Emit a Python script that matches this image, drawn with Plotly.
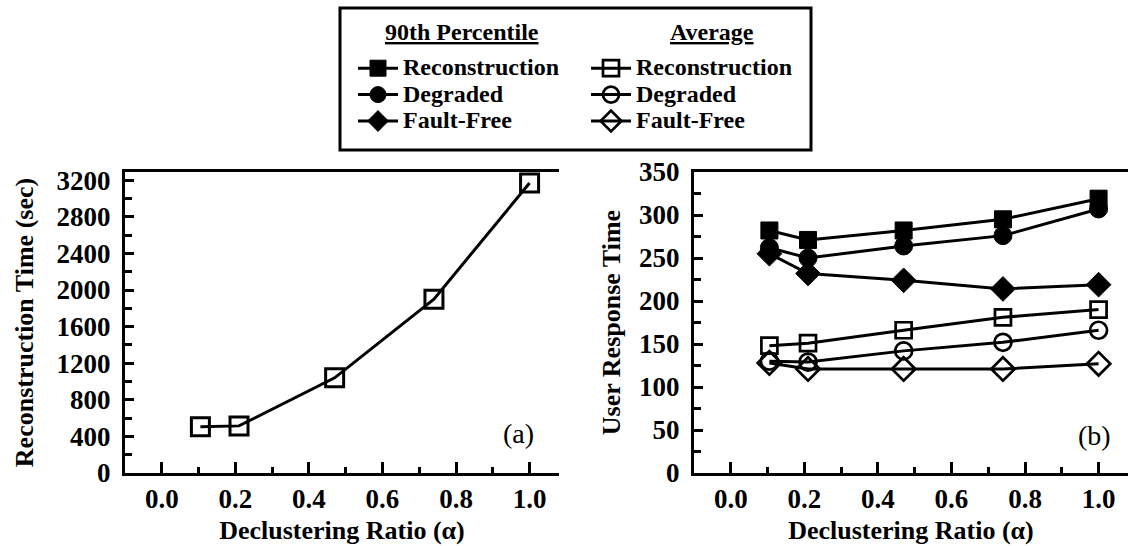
import plotly.graph_objects as go

W, H = 1128, 546

# ---- data ----
alpha = [0.105, 0.21, 0.47, 0.74, 1.0]
recon_time = [505, 515, 1040, 1900, 3170]

recon_90 = [282, 271, 282, 295, 319]
degraded_90 = [262, 250, 264, 276, 307]
faultfree_90 = [255, 232, 224, 214, 219]
recon_avg = [148, 151, 166, 181, 190]
degraded_avg = [130, 129, 142, 152, 166]
faultfree_avg = [128, 121, 121, 121, 127]

series_names = ["Reconstruction", "Degraded", "Fault-Free"]

FONT = "Liberation Serif"
LW = 3


def px(x):
    return x / W


def py(y):
    return (H - y) / H


def legname(n):
    # larger visible text, while the legend's row pitch follows the smaller legend font size
    return '<span style="font-size:24px">' + n + '</span>'


fig = go.Figure()

# left panel
fig.add_trace(go.Scatter(
    x=alpha, y=recon_time, mode="lines+markers", xaxis="x", yaxis="y",
    line=dict(color="black", width=LW),
    marker=dict(symbol="square-open", size=18, color="black", line=dict(width=3, color="black")),
    showlegend=False))

# right panel
p90 = [recon_90, degraded_90, faultfree_90]
avg = [recon_avg, degraded_avg, faultfree_avg]
sym_f = ["square", "circle", "diamond"]
sym_o = ["square-open", "circle-open", "diamond-open"]
sizes_f = [17, 18, 19]
sizes_o = [16, 17, 18]

for name, vals, s, sz in zip(series_names, p90, sym_f, sizes_f):
    fig.add_trace(go.Scatter(
        x=alpha, y=vals, mode="lines+markers", xaxis="x2", yaxis="y2", name=legname(name),
        line=dict(color="black", width=LW),
        marker=dict(symbol=s, size=sz, color="black", line=dict(width=1, color="black")),
        legend="legend"))
for name, vals, s, sz in zip(series_names, avg, sym_o, sizes_o):
    fig.add_trace(go.Scatter(
        x=alpha, y=vals, mode="lines+markers", xaxis="x2", yaxis="y2", name=legname(name),
        line=dict(color="black", width=LW),
        marker=dict(symbol=s, size=sz, color="black", line=dict(width=2.7, color="black")),
        legend="legend2"))

tickfont = dict(family=FONT, size=27, color="black", weight="bold")
titlefont = dict(family=FONT, size=26, color="black", weight="bold")
legfont = dict(family=FONT, size=18, color="black", weight="bold")
headfont = dict(family=FONT, size=24, color="black", weight="bold")

xcommon = dict(range=[-0.1, 1.08], tick0=0, dtick=0.2, tickformat=".1f",
               ticks="inside", ticklen=11, tickwidth=2.5, tickcolor="black",
               showline=True, linewidth=LW, linecolor="black", mirror=True,
               showgrid=False, zeroline=False, tickfont=tickfont,
               minor=dict(dtick=0.1, tick0=0, ticks="inside", ticklen=6, tickwidth=2.5, tickcolor="black"),
               title=dict(text="Declustering Ratio (α)", font=titlefont, standoff=8),
               automargin=False)

ydom = [py(473), py(172)]

fig.update_layout(
    width=W, height=H,
    margin=dict(l=0, r=0, t=0, b=0),
    paper_bgcolor="white", plot_bgcolor="white",
    font=dict(family=FONT, color="black"),
    xaxis=dict(domain=[px(125), px(559)], anchor="y", **xcommon),
    xaxis2=dict(domain=[px(694), px(1128)], anchor="y2", **xcommon),
    yaxis=dict(domain=ydom, anchor="x", range=[0, 3290], tick0=0, dtick=400,
               ticks="inside", ticklen=9, tickwidth=2.5, tickcolor="black",
               showline=True, linewidth=LW, linecolor="black",
               showgrid=False, zeroline=False, tickfont=tickfont, ticklabelstandoff=6,
               minor=dict(dtick=200, tick0=0, ticks="inside", ticklen=7, tickwidth=2.5, tickcolor="black"),
               title=dict(text="Reconstruction Time (sec)", font=titlefont, standoff=16),
               automargin=False),
    yaxis3=dict(overlaying="y", side="right", anchor="x", range=[0, 3290], tick0=0, dtick=400,
                ticks="inside", ticklen=8, tickwidth=2.5, tickcolor="black",
                showline=False, showgrid=False, zeroline=False, showticklabels=False),
    yaxis2=dict(domain=ydom, anchor="x2", range=[0, 350], tick0=0, dtick=50,
                ticks="inside", ticklen=9, tickwidth=2.5, tickcolor="black",
                showline=True, linewidth=LW, linecolor="black",
                showgrid=False, zeroline=False, tickfont=tickfont, ticklabelstandoff=6,
                minor=dict(dtick=25, tick0=0, ticks="inside", ticklen=7, tickwidth=2.5, tickcolor="black"),
                title=dict(text="User Response Time", font=titlefont, standoff=11),
                automargin=False),
    yaxis4=dict(overlaying="y2", side="right", anchor="x2", range=[0, 350], tick0=0, dtick=50,
                ticks="inside", ticklen=8, tickwidth=2.5, tickcolor="black",
                showline=False, showgrid=False, zeroline=False, showticklabels=False),
    legend=dict(x=px(353), y=py(50), xanchor="left", yanchor="top", font=legfont,
                bgcolor="rgba(0,0,0,0)", borderwidth=0, tracegroupgap=0, itemwidth=40),
    legend2=dict(x=px(586), y=py(50), xanchor="left", yanchor="top", font=legfont,
                 bgcolor="rgba(0,0,0,0)", borderwidth=0, tracegroupgap=0, itemwidth=40),
    shapes=[dict(type="rect", xref="paper", yref="paper",
                 x0=px(340), x1=px(811), y0=py(150), y1=py(8),
                 line=dict(color="black", width=3), fillcolor="rgba(0,0,0,0)")],
    annotations=[
        dict(text="<u>90th Percentile</u>", x=px(462), y=py(32), xref="paper", yref="paper",
             xanchor="center", yanchor="middle", showarrow=False, font=headfont),
        dict(text="<u>Average</u>", x=px(712), y=py(32), xref="paper", yref="paper",
             xanchor="center", yanchor="middle", showarrow=False, font=headfont),
        dict(text="(a)", x=px(518), y=py(433), xref="paper", yref="paper",
             xanchor="center", yanchor="middle",
             showarrow=False, font=dict(family=FONT, size=28, color="black")),
        dict(text="(b)", x=px(1094), y=py(435), xref="paper", yref="paper",
             xanchor="center", yanchor="middle",
             showarrow=False, font=dict(family=FONT, size=28, color="black")),
    ],
)

fig.write_html("out.html")
